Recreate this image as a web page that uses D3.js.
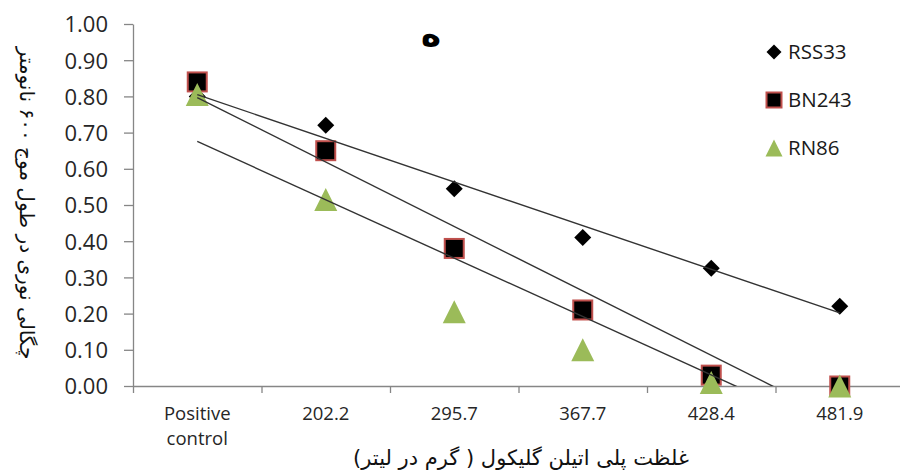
<!DOCTYPE html>
<html>
<head>
<meta charset="utf-8">
<script src="https://cdn.jsdelivr.net/npm/d3@7"></script>
<style>
  html, body { margin: 0; padding: 0; background: #fff; }
  svg { display: block; }
  .tick text { font-family: "Open Sans", sans-serif; fill: #262626; }
</style>
</head>
<body>
<svg id="chart" width="900" height="476"></svg>
<script>
// Concentration categories (g/L) on the x axis
const categories = ["Positive control", "202.2", "295.7", "367.7", "428.4", "481.9"];

// Optical density readings for each strain
const seriesNames = ["RSS33", "BN243", "RN86"];
const rss33 = [0.80, 0.72, 0.545, 0.41, 0.325, 0.22];
const bn243 = [0.84, 0.65, 0.38, 0.21, 0.03, 0.00];
const rn86  = [0.805, 0.515, 0.205, 0.10, 0.01, 0.00];

const yTicks = [0, 0.1, 0.2, 0.3, 0.4, 0.5, 0.6, 0.7, 0.8, 0.9, 1.0];

const xTitle = "غلظت پلی اتیلن گلیکول ( گرم در لیتر)";
const yTitle = "چگالی نوری در طول موج ۶۰۰ نانومتر";
const panelLabel = "ه";

(function () {
const svg = d3.select("#chart");
const plot = { left: 133, right: 904, top: 24, bottom: 386 };

// x in category-index units: category i sits at index i+1
const x = d3.scaleLinear().domain([0.5, categories.length + 0.5]).range([plot.left, plot.right]);
const y = d3.scaleLinear().domain([0, 1]).range([plot.bottom, plot.top]);

const axisColor = "#868686";

// y axis
const gy = svg.append("g")
  .attr("transform", `translate(${plot.left},0)`)
  .call(d3.axisLeft(y).tickValues(yTicks).tickFormat(d3.format(".2f"))
    .tickSize(9).tickSizeOuter(0).tickPadding(16));
gy.selectAll("text").attr("font-size", 22).attr("dy", "0.36em");

// x axis: tick marks at category boundaries
const bounds = d3.range(categories.length + 1).map(i => i + 0.5);
const gx = svg.append("g")
  .attr("transform", `translate(0,${plot.bottom})`)
  .call(d3.axisBottom(x).tickValues(bounds).tickFormat("").tickSize(7).tickSizeOuter(0));

[gy, gx].forEach(g => {
  g.select(".domain").attr("stroke", axisColor).attr("stroke-width", 1.3);
  g.selectAll(".tick line").attr("stroke", axisColor).attr("stroke-width", 1.3);
});

// category labels centred in each band
const labels = svg.append("g")
  .attr("font-family", "Open Sans, sans-serif")
  .attr("font-size", 18.5)
  .attr("fill", "#262626")
  .attr("text-anchor", "middle");
categories.forEach((c, i) => {
  const t = labels.append("text").attr("x", x(i + 1)).attr("y", 420);
  c.split(" ").forEach((w, k) => {
    t.append("tspan").attr("x", x(i + 1)).attr("dy", k === 0 ? 0 : 25).text(w);
  });
});

// clip for trendlines
svg.append("clipPath").attr("id", "plotClip")
  .append("rect").attr("x", plot.left).attr("y", plot.top)
  .attr("width", plot.right - plot.left).attr("height", plot.bottom - plot.top);

// least-squares linear trend over category index
function linearFit(vals) {
  const xs = vals.map((_, i) => i + 1);
  const mx = d3.mean(xs), my = d3.mean(vals);
  let sxy = 0, sxx = 0;
  xs.forEach((xi, i) => { sxy += (xi - mx) * (vals[i] - my); sxx += (xi - mx) ** 2; });
  const slope = sxy / sxx;
  return { slope, intercept: my - slope * mx };
}

function drawDiamond(g, cx, cy, half) {
  g.append("path")
    .attr("d", `M${cx},${cy - half}L${cx + half},${cy}L${cx},${cy + half}L${cx - half},${cy}Z`)
    .attr("fill", "#000");
}
function drawSquare(g, cx, cy, size) {
  g.append("rect")
    .attr("x", cx - size / 2).attr("y", cy - size / 2)
    .attr("width", size).attr("height", size)
    .attr("fill", "#000").attr("stroke", "#C0504D").attr("stroke-width", 2);
}
function drawTriangle(g, cx, cy, w) {
  const h = w;
  g.append("path")
    .attr("d", `M${cx},${cy - h / 2}L${cx + w / 2},${cy + h / 2}L${cx - w / 2},${cy + h / 2}Z`)
    .attr("fill", "#9BBB59");
}

const markers = svg.append("g");
rss33.forEach((v, i) => drawDiamond(markers, x(i + 1), y(v), 8.5));
bn243.forEach((v, i) => drawSquare(markers, x(i + 1), y(v), 19));
rn86.forEach((v, i) => drawTriangle(markers, x(i + 1), y(v), 23));

// trendlines drawn over the markers
const trend = svg.append("g").attr("clip-path", "url(#plotClip)");
[rss33, bn243, rn86].forEach(vals => {
  const f = linearFit(vals);
  const x0 = 1, x1 = vals.length;
  trend.append("line")
    .attr("x1", x(x0)).attr("y1", y(f.intercept + f.slope * x0))
    .attr("x2", x(x1)).attr("y2", y(f.intercept + f.slope * x1))
    .attr("stroke", "#333").attr("stroke-width", 1.4);
});

// legend
const legend = svg.append("g")
  .attr("font-family", "Open Sans, sans-serif")
  .attr("font-size", 20.5)
  .attr("fill", "#1a1a1a");
const legendRows = [52, 100, 148];
seriesNames.forEach((name, k) => {
  const cy = legendRows[k];
  if (k === 0) drawDiamond(legend, 774, cy, 7.5);
  if (k === 1) drawSquare(legend, 774, cy, 15);
  if (k === 2) drawTriangle(legend, 774, cy, 17);
  legend.append("text").attr("x", 788).attr("y", cy).attr("dy", "0.36em").text(name);
});

// panel label
svg.append("text")
  .attr("x", 431).attr("y", 46)
  .attr("text-anchor", "middle")
  .attr("font-family", "DejaVu Sans, sans-serif")
  .attr("font-weight", "bold")
  .attr("font-size", 34)
  .text(panelLabel);

// axis titles (right-to-left text)
svg.append("text")
  .attr("x", 521).attr("y", 465)
  .attr("text-anchor", "middle")
  .attr("direction", "rtl")
  .attr("font-family", "DejaVu Sans, sans-serif")
  .attr("font-size", 21)
  .attr("fill", "#111")
  .text(xTitle);

svg.append("text")
  .attr("transform", "translate(20,203) rotate(90)")
  .attr("text-anchor", "middle")
  .attr("direction", "rtl")
  .attr("font-family", "DejaVu Sans, sans-serif")
  .attr("font-size", 20)
  .attr("fill", "#111")
  .text(yTitle);
})();
</script>
</body>
</html>
